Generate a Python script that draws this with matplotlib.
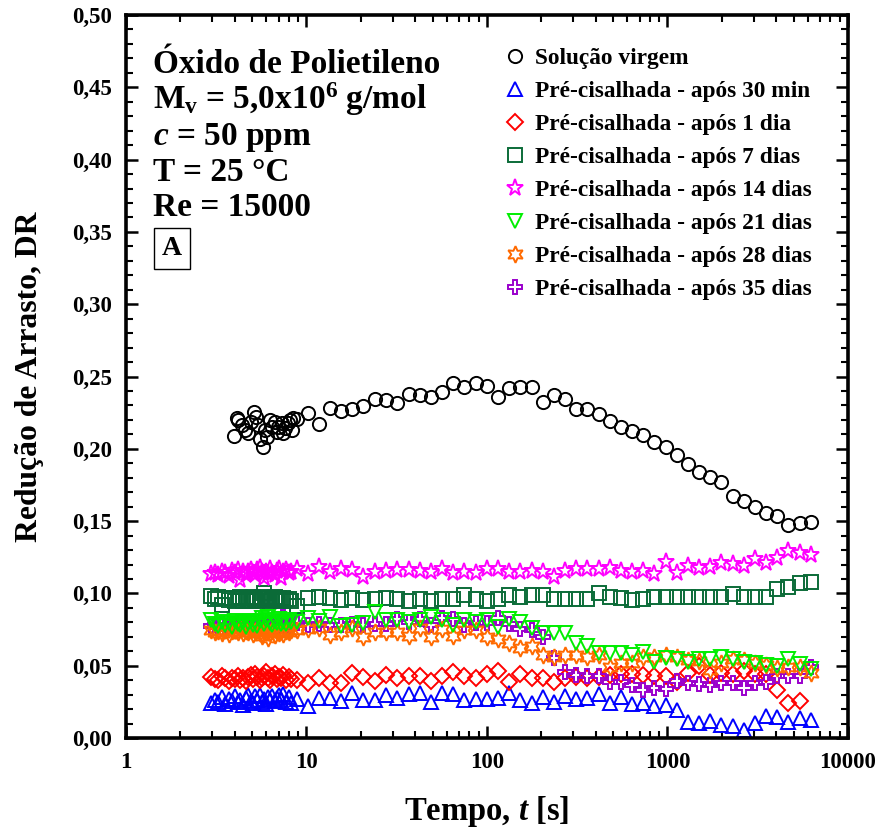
import numpy as np
import matplotlib
matplotlib.use("Agg")
import matplotlib.pyplot as plt
from matplotlib.ticker import MultipleLocator, LogLocator, NullFormatter, FuncFormatter, FixedLocator

plt.rcParams['font.family'] = 'Liberation Serif'
plt.rcParams['font.weight'] = 'bold'
plt.rcParams['axes.labelweight'] = 'bold'
plt.rcParams['mathtext.fontset'] = 'custom'
plt.rcParams['mathtext.rm'] = 'Liberation Serif:bold'
plt.rcParams['mathtext.it'] = 'Liberation Serif:italic:bold'
plt.rcParams['mathtext.bf'] = 'Liberation Serif:bold'

# -----------------------
# Data
# -----------------------
# fast sampling at the start of each run
t_dense = [2.95, 3.10, 3.25, 3.40, 3.55, 3.70, 3.85, 4.00, 4.15, 4.30, 4.45, 4.60,
           4.75, 4.90, 5.05, 5.20, 5.35, 5.50, 5.65, 5.80, 5.95, 6.10, 6.25, 6.45,
           6.65, 6.85, 7.05, 7.25, 7.45, 7.70, 7.95, 8.20]
t_dense_virgem = [3.97, 4.10, 4.19, 4.37, 4.56, 4.76, 4.91, 5.12, 5.25, 5.41, 5.53, 5.77,
                  5.89, 6.07, 6.28, 6.41, 6.69, 6.83, 6.98, 7.28, 7.44, 7.60, 7.93, 8.10,
                  8.28, 8.45]
# slower sampling afterwards
t_sparse = [8.86, 10.19, 11.73, 13.50, 15.53, 17.87, 20.56, 23.96, 27.57, 31.72,
            36.98, 42.55, 48.96, 56.33, 64.81, 74.58, 86.94, 100.0, 115.1, 132.4,
            152.3, 177.5, 204.3, 235.0, 270.4, 311.2, 358.1, 417.4, 480.3, 552.7,
            635.9, 731.7, 842.0, 981.0, 1129, 1299, 1495, 1720, 1979, 2307,
            2654, 3054, 3513, 4043, 4651, 5422, 6237]

virgem_dense = [0.2089, 0.2215, 0.2199, 0.2165, 0.2130, 0.2107, 0.2188, 0.2257, 0.2222,
                0.2165, 0.2066, 0.2015, 0.2130, 0.2084, 0.2199, 0.2153, 0.2188, 0.2118,
                0.2153, 0.2176, 0.2107, 0.2142, 0.2176, 0.2199, 0.2130, 0.2211]
virgem = [0.2204, 0.2245, 0.2171, 0.2280, 0.2264, 0.2273, 0.2296, 0.2344, 0.2337, 0.2314,
          0.2377, 0.2372, 0.2356, 0.2395, 0.2453, 0.2430, 0.2457, 0.2434, 0.2356, 0.2418,
          0.2425, 0.2425, 0.2321, 0.2372, 0.2342, 0.2273, 0.2275, 0.2241, 0.2194, 0.2153,
          0.2123, 0.2093, 0.2045, 0.2010, 0.1955, 0.1893, 0.1842, 0.1807, 0.1773, 0.1676,
          0.1639, 0.1600, 0.1558, 0.1538, 0.1473, 0.1485, 0.1492]

min30_dense = [0.0240, 0.0262, 0.0251, 0.0283, 0.0235, 0.0270, 0.0258, 0.0290, 0.0247,
               0.0265, 0.0225, 0.0278, 0.0301, 0.0255, 0.0242, 0.0288, 0.0262, 0.0296,
               0.0250, 0.0270, 0.0238, 0.0281, 0.0265, 0.0292, 0.0255, 0.0275, 0.0298,
               0.0262, 0.0305, 0.0250, 0.0283, 0.0240]
min30 = [0.0267, 0.0221, 0.0274, 0.0274, 0.0258, 0.0309, 0.0263, 0.0263, 0.0297, 0.0274,
         0.0304, 0.0314, 0.0251, 0.0309, 0.0304, 0.0263, 0.0270, 0.0270, 0.0274, 0.0314,
         0.0263, 0.0244, 0.0286, 0.0251, 0.0290, 0.0267, 0.0274, 0.0304, 0.0244, 0.0286,
         0.0235, 0.0244, 0.0224, 0.0228, 0.0194, 0.0113, 0.0101, 0.0120, 0.0090, 0.0083,
         0.0055, 0.0106, 0.0152, 0.0148, 0.0113, 0.0136, 0.0124]

dia1_dense = [0.0425, 0.0410, 0.0398, 0.0432, 0.0418, 0.0392, 0.0415, 0.0405, 0.0428,
              0.0400, 0.0412, 0.0395, 0.0420, 0.0438, 0.0410, 0.0445, 0.0425, 0.0402,
              0.0418, 0.0432, 0.0460, 0.0415, 0.0398, 0.0428, 0.0440, 0.0405, 0.0420,
              0.0412, 0.0435, 0.0400, 0.0425, 0.0410]
dia1 = [0.0401, 0.0378, 0.0413, 0.0383, 0.0383, 0.0452, 0.0420, 0.0397, 0.0436, 0.0413,
        0.0429, 0.0429, 0.0397, 0.0429, 0.0459, 0.0429, 0.0413, 0.0443, 0.0466, 0.0390,
        0.0443, 0.0413, 0.0413, 0.0390, 0.0413, 0.0420, 0.0413, 0.0424, 0.0436, 0.0443,
        0.0443, 0.0436, 0.0429, 0.0429, 0.0390, 0.0452, 0.0498, 0.0436, 0.0452, 0.0443,
        0.0466, 0.0443, 0.0443, 0.0332, 0.0244, 0.0258]

dias7_dense = [0.0985, 0.0960, 0.0975, 0.0920, 0.0965, 0.0955, 0.0970, 0.0948, 0.0962,
               0.0975, 0.0950, 0.0968, 0.0958, 0.0945, 0.0972, 0.0960, 0.0950, 0.0965,
               0.0975, 0.1003, 0.0955, 0.0968, 0.0948, 0.0960, 0.0972, 0.0955, 0.0965,
               0.0950, 0.0968, 0.0958, 0.0962, 0.0950]
dias7 = [0.0913, 0.0966, 0.0977, 0.0966, 0.0954, 0.0966, 0.0954, 0.0959, 0.0966, 0.0959,
         0.0950, 0.0964, 0.0950, 0.0964, 0.0959, 0.0989, 0.0964, 0.0950, 0.0959, 0.0989,
         0.0973, 0.0989, 0.0989, 0.0959, 0.0964, 0.0964, 0.0964, 0.1000, 0.0973, 0.0970,
         0.0954, 0.0964, 0.0973, 0.0973, 0.0977, 0.0977, 0.0977, 0.0977, 0.0977, 0.0996,
         0.0977, 0.0977, 0.0977, 0.1028, 0.1046, 0.1074, 0.1081]

dias14_dense = [0.1135, 0.1140, 0.1128, 0.1150, 0.1142, 0.1120, 0.1155, 0.1138, 0.1160,
                0.1095, 0.1145, 0.1130, 0.1150, 0.1165, 0.1138, 0.1125, 0.1160, 0.1178,
                0.1145, 0.1105, 0.1150, 0.1135, 0.1168, 0.1140, 0.1128, 0.1155, 0.1172,
                0.1110, 0.1148, 0.1160, 0.1138, 0.1150]
dias14 = [0.1166, 0.1134, 0.1180, 0.1150, 0.1166, 0.1162, 0.1116, 0.1150, 0.1157, 0.1162,
          0.1162, 0.1157, 0.1150, 0.1166, 0.1139, 0.1146, 0.1143, 0.1166, 0.1166, 0.1146,
          0.1146, 0.1157, 0.1150, 0.1116, 0.1157, 0.1166, 0.1166, 0.1166, 0.1178, 0.1157,
          0.1150, 0.1157, 0.1134, 0.1215, 0.1143, 0.1190, 0.1178, 0.1185, 0.1213, 0.1203,
          0.1190, 0.1236, 0.1213, 0.1243, 0.1293, 0.1282, 0.1266]

dias21_dense = [0.0815, 0.0790, 0.0775, 0.0805, 0.0785, 0.0798, 0.0770, 0.0810, 0.0792,
                0.0780, 0.0802, 0.0768, 0.0795, 0.0812, 0.0785, 0.0800, 0.0775, 0.0808,
                0.0830, 0.0790, 0.0815, 0.0835, 0.0798, 0.0782, 0.0810, 0.0795, 0.0820,
                0.0788, 0.0805, 0.0792, 0.0815, 0.0800]
dias21 = [0.0804, 0.0828, 0.0811, 0.0839, 0.0775, 0.0781, 0.0793, 0.0874, 0.0816, 0.0816,
          0.0804, 0.0816, 0.0839, 0.0816, 0.0781, 0.0816, 0.0804, 0.0816, 0.0770, 0.0821,
          0.0804, 0.0758, 0.0724, 0.0724, 0.0728, 0.0659, 0.0636, 0.0590, 0.0590, 0.0585,
          0.0574, 0.0597, 0.0528, 0.0551, 0.0544, 0.0528, 0.0544, 0.0544, 0.0558, 0.0544,
          0.0528, 0.0516, 0.0505, 0.0498, 0.0544, 0.0512, 0.0475]

dias28_dense = [0.0748, 0.0735, 0.0742, 0.0728, 0.0750, 0.0720, 0.0738, 0.0745, 0.0730,
                0.0755, 0.0725, 0.0740, 0.0733, 0.0748, 0.0718, 0.0738, 0.0745, 0.0728,
                0.0705, 0.0740, 0.0732, 0.0690, 0.0725, 0.0745, 0.0710, 0.0735, 0.0728,
                0.0742, 0.0720, 0.0738, 0.0730, 0.0745]
dias28 = [0.0747, 0.0751, 0.0758, 0.0712, 0.0735, 0.0758, 0.0696, 0.0735, 0.0735, 0.0735,
          0.0708, 0.0758, 0.0701, 0.0751, 0.0708, 0.0747, 0.0747, 0.0696, 0.0682, 0.0655,
          0.0620, 0.0636, 0.0574, 0.0558, 0.0574, 0.0574, 0.0558, 0.0574, 0.0493, 0.0521,
          0.0521, 0.0558, 0.0562, 0.0574, 0.0558, 0.0540, 0.0530, 0.0470, 0.0516, 0.0544,
          0.0539, 0.0516, 0.0505, 0.0482, 0.0489, 0.0489, 0.0447]

dias35_dense = [0.0775, 0.0782, 0.0770, 0.0790, 0.0778, 0.0768, 0.0785, 0.0792, 0.0775,
                0.0800, 0.0780, 0.0772, 0.0788, 0.0778, 0.0795, 0.0770, 0.0785, 0.0805,
                0.0778, 0.0790, 0.0775, 0.0782, 0.0795, 0.0770, 0.0788, 0.0780, 0.0772,
                0.0790, 0.0835, 0.0778, 0.0785, 0.0775]
dias35 = [0.0798, 0.0781, 0.0790, 0.0781, 0.0781, 0.0790, 0.0781, 0.0790, 0.0790, 0.0821,
          0.0804, 0.0821, 0.0781, 0.0828, 0.0821, 0.0781, 0.0793, 0.0798, 0.0828, 0.0788,
          0.0751, 0.0747, 0.0701, 0.0551, 0.0459, 0.0436, 0.0429, 0.0429, 0.0390, 0.0390,
          0.0367, 0.0332, 0.0343, 0.0337, 0.0397, 0.0383, 0.0373, 0.0367, 0.0378, 0.0383,
          0.0343, 0.0383, 0.0390, 0.0429, 0.0429, 0.0429, 0.0493]

labels = ['Solução virgem',
          'Pré-cisalhada - após 30 min',
          'Pré-cisalhada - após 1 dia',
          'Pré-cisalhada - após 7 dias',
          'Pré-cisalhada - após 14 dias',
          'Pré-cisalhada - após 21 dias',
          'Pré-cisalhada - após 28 dias',
          'Pré-cisalhada - após 35 dias']

# (dense times, dense values, sparse values, marker, size, colour, zorder)
series = [
    (t_dense_virgem, virgem_dense, virgem, 'o', 9.5, 'black', 2),
    (t_dense, min30_dense, min30, '^', 9.5, '#0000ff', 2),
    (t_dense, dia1_dense, dia1, 'D', 8.0, '#ff0000', 2),
    (t_dense, dias7_dense, dias7, 's', 9.5, '#0b6b38', 2),
    (t_dense, dias14_dense, dias14, '*', 12.5, '#ff00ff', 2),
    (t_dense, dias21_dense, dias21, 'v', 9.5, '#00ee00', 2.6),
    (t_dense, dias28_dense, dias28, (6, 1, 0), 12.0, '#ff6a00', 2.2),
    (t_dense, dias35_dense, dias35, 'P', 10.0, '#9a00cc', 2.1),
]

# -----------------------
# Figure
# -----------------------
fig = plt.figure(figsize=(8.78, 8.40), dpi=100)
ax = fig.add_axes([0.1435, 0.1214, 0.8223, 0.8607])

for (td, yd, ys, mk, ms, col, zo), lab in zip(series, labels):
    x = list(td) + t_sparse[:len(ys)]
    y = list(yd) + list(ys)
    ax.plot(x, y, ls='none', marker=mk, ms=ms, mfc='none', mec=col, mew=1.4,
            label=lab, zorder=zo)

ax.set_xscale('log')
ax.set_xlim(1, 10000)
ax.set_ylim(0, 0.5)

ax.xaxis.set_major_locator(FixedLocator([1, 10, 100, 1000, 10000]))
ax.xaxis.set_major_formatter(FuncFormatter(lambda v, _: f"{v:g}"))
ax.xaxis.set_minor_locator(LogLocator(base=10, subs=np.arange(2, 10)))
ax.xaxis.set_minor_formatter(NullFormatter())
ax.yaxis.set_major_locator(MultipleLocator(0.05))
ax.yaxis.set_minor_locator(MultipleLocator(0.01))
ax.yaxis.set_major_formatter(FuncFormatter(lambda v, _: f"{v:.2f}".replace('.', ',')))

ax.tick_params(which='both', direction='in', top=True, right=True, labelsize=16.5)
ax.tick_params(which='major', length=8.5, width=1.8, pad=10)
ax.tick_params(which='minor', length=5, width=1.5)
for sp in ax.spines.values():
    sp.set_linewidth(2.6)

ax.set_xlabel('Tempo, $\\it{t}$ [s]', fontsize=23.5, labelpad=15)
ax.set_ylabel('Redução de Arrasto, DR', fontsize=22.8, labelpad=20)

# annotation block
info = ['Óxido de Polietileno',
        'M$_{\\rm v}$ = 5,0x10$^{6}$ g/mol',
        '$\\it{c}$ = 50 ppm',
        'T = 25 °C',
        'Re = 15000']
info_y = [0.9198, 0.870, 0.820, 0.770, 0.722]
for txt, yy in zip(info, info_y):
    ax.text(0.0374, yy, txt, transform=ax.transAxes, fontsize=24, va='baseline', ha='left')
ax.text(0.0635, 0.677, 'A', transform=ax.transAxes, fontsize=20, ha='center', va='center',
        bbox=dict(boxstyle='square,pad=0.28', fc='white', ec='black', lw=1.0))

ax.legend(loc='upper left', bbox_to_anchor=(0.526, 0.955), frameon=False,
          fontsize=16.8, borderpad=0, borderaxespad=0, handlelength=0.8,
          handletextpad=0.45, labelspacing=0.5)

fig.savefig('out.png', dpi=100)
